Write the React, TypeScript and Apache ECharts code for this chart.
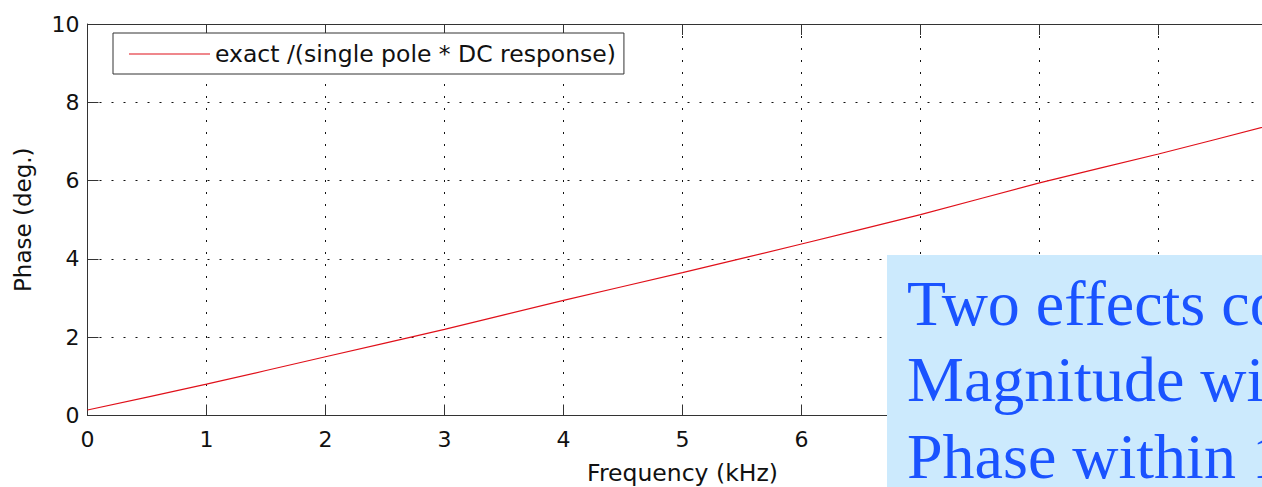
import React, { useEffect, useRef } from "react";
import * as echarts from "echarts";

// Phase of exact response divided by (single pole * DC response)
const freqKHz = [0, 1, 2, 3, 4, 5, 6, 7, 8, 9, 10];
const phaseDeg = [0.14, 0.8, 1.5, 2.2, 2.94, 3.65, 4.38, 5.13, 5.94, 6.68, 7.46];
const seriesName = "exact /(single pole * DC response)";
const xAxisTitle = "Frequency (kHz)";
const yAxisTitle = "Phase (deg.)";
const noteLines = ["Two effects combined", "Magnitude within 1%", "Phase within 1°"];
// tick labels right of this value sit beneath the note panel
const lastVisibleXLabel = 6;

const SANS = "DejaVu Sans";
const SERIF = "Liberation Serif";
const RED = "#e0101a";

// legend box placement
const LEGEND_LEFT = 113;
const LEGEND_TOP = 33;
const LEGEND_PAD_LEFT = 15;
const LEGEND_KEY_W = 81;
const LEGEND_ROW_H = 27;
const LEGEND_PAD_V = 7;

export default function App() {
  const ref = useRef<HTMLDivElement>(null);

  useEffect(() => {
    if (!ref.current) return;
    const chart = echarts.init(ref.current, null, { renderer: "svg" });

    const gridLine = { show: true, lineStyle: { color: "#111", width: 1, type: [2, 10] as number[] } };
    const axisLine = { show: true, lineStyle: { color: "#333", width: 1 } };
    const tick = { show: true, inside: true, length: 11, lineStyle: { color: "#333" } };

    const keyX = LEGEND_LEFT + 1 + LEGEND_PAD_LEFT;
    const keyY = LEGEND_TOP + 1 + LEGEND_PAD_V + LEGEND_ROW_H / 2 - 0.5;

    chart.setOption({
      animation: false,
      backgroundColor: "#fff",
      grid: {
        left: 87.5,
        top: 24,
        width: 1190,
        height: 391.5,
        outerBoundsMode: "none",
        containLabel: false,
      },
      legend: {
        left: LEGEND_LEFT,
        top: LEGEND_TOP,
        orient: "horizontal",
        padding: [LEGEND_PAD_V, 8, LEGEND_PAD_V, LEGEND_PAD_LEFT],
        itemWidth: LEGEND_KEY_W,
        itemHeight: 14,
        itemGap: 0,
        itemTextGap: 12,
        backgroundColor: "#fff",
        borderColor: "#333",
        borderWidth: 1,
        borderRadius: 0,
        // the key line is drawn as a graphic below, so the built-in key stays hidden
        itemStyle: { opacity: 0 },
        lineStyle: { opacity: 0 },
        textStyle: { fontFamily: SANS, fontSize: 23.5, color: "#111", lineHeight: LEGEND_ROW_H },
        data: [seriesName],
      },
      xAxis: [
        {
          type: "value",
          min: 0,
          max: 10,
          interval: 1,
          position: "bottom",
          name: xAxisTitle,
          nameLocation: "middle",
          nameGap: 45,
          nameTextStyle: { fontFamily: SANS, fontSize: 23.5, color: "#111" },
          axisLine,
          axisTick: tick,
          axisLabel: {
            fontFamily: SANS,
            fontSize: 22,
            color: "#111",
            margin: 13,
            formatter: (v: number) => (v <= lastVisibleXLabel ? String(v) : ""),
          },
          splitLine: gridLine,
        },
        {
          type: "value",
          min: 0,
          max: 10,
          interval: 1,
          position: "top",
          axisLine,
          axisTick: tick,
          axisLabel: { show: false },
          splitLine: { show: false },
        },
      ],
      yAxis: {
        type: "value",
        min: 0,
        max: 10,
        interval: 2,
        name: yAxisTitle,
        nameLocation: "middle",
        nameGap: 53,
        nameTextStyle: { fontFamily: SANS, fontSize: 23, color: "#111" },
        axisLine,
        axisTick: tick,
        axisLabel: { fontFamily: SANS, fontSize: 22, color: "#111", margin: 8 },
        splitLine: gridLine,
      },
      series: [
        {
          name: seriesName,
          type: "line",
          xAxisIndex: 0,
          data: freqKHz.map((f, i) => [f, phaseDeg[i]]),
          symbol: "none",
          showSymbol: false,
          smooth: 0.2,
          lineStyle: { color: RED, width: 1.2 },
          itemStyle: { color: RED },
          z: 3,
        },
      ],
      graphic: [
        {
          type: "line",
          z: 50,
          shape: { x1: keyX, y1: keyY, x2: keyX + LEGEND_KEY_W, y2: keyY },
          style: { stroke: RED, lineWidth: 1.2 },
        },
        {
          type: "group",
          left: 887,
          top: 255,
          z: 100,
          children: [
            {
              type: "rect",
              z: 100,
              shape: { x: 0, y: 0, width: 420, height: 240 },
              style: { fill: "#cceafd" },
            },
            ...noteLines.map((line, i) => ({
              type: "text",
              z: 101,
              x: 20,
              y: 16 + i * 76.5,
              style: {
                text: line,
                fill: "#1a53ff",
                font: `64px '${SERIF}'`,
                verticalAlign: "top",
              },
            })),
          ],
        },
      ],
    });

    return () => chart.dispose();
  }, []);

  return (
    <div
      ref={ref}
      style={{ position: "fixed", left: 0, top: 0, width: 1262, height: 487, overflow: "hidden" }}
    />
  );
}
